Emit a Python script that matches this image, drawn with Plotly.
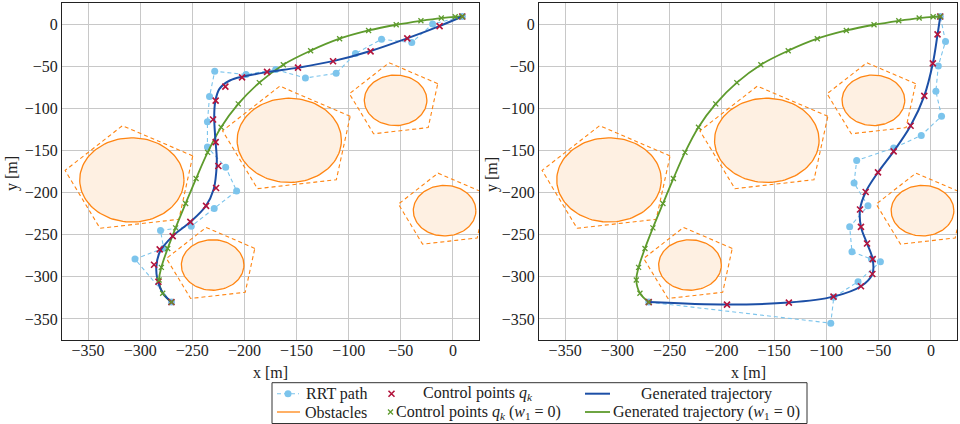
import numpy as np
import plotly.graph_objects as go

# ---------------------------------------------------------------- data
# obstacles: circle centres and radii (identical in both panels)
obs_cx = [-308, -157, -55, -8, -230.5]
obs_cy = [-185, -138, -90.5, -221.5, -286]
obs_r = [50, 50, 30, 30, 30]
safety_margin = 15          # pentagon circumradius = r + margin
pentagon_rot_deg = 26

# left panel
left_rrt_x = [-270, -305, -277.5, -280.5, -251, -229, -207.5, -218, -235.5, -235.5,
              -233.5, -228.5, -198.5, -170, -141.5, -112, -93.5, -68.5, -39.5, -19.5, 9]
left_rrt_y = [-330, -279, -266, -245, -240, -219, -198, -170, -146, -116,
              -86, -56, -60, -54, -64, -58.5, -35, -18, -22, 0, 9]
left_cp_x = [-270, -282.5, -286.7, -281.3, -268.8, -251.9, -236.8, -227.2, -225, -227.6,
             -230.1, -227.6, -218.3, -202.3, -178.3, -148.6, -115, -79, -43.8, -12.8, 9]
left_cp_y = [-330, -305.8, -285.7, -267.5, -251.7, -234.8, -215.8, -194.6, -168.5, -140.1,
             -113.3, -90.8, -74.2, -63.2, -56.8, -51.7, -44.2, -32.4, -17, -2.4, 9]
left_traj_x = [-270, -279, -283.5, -284.5, -281, -268.8, -252, -237, -229.5, -227,
               -226.5, -228, -229, -228, -224, -214, -200, -178, -148.6, -115, -79, -44, -13, 9]
left_traj_y = [-330, -318, -303, -288, -270, -251.7, -235, -216, -196, -175,
               -160, -135, -110, -92, -77, -67, -62, -57, -51.7, -44, -32, -17, -2.4, 9]

# right panel
right_rrt_x = [-270, -95.8, -92.9, -69.7, -48.3, -56.9, -75.5, -77.7, -60.2, -73.5,
               -71, -35.6, -9.2, 10.2, 4.8, 7.1, 14, 9]
right_rrt_y = [-330, -355, -324.3, -305.8, -282.1, -279, -270.3, -240.7, -215.8, -188.6,
               -161.8, -147.2, -132.2, -109.3, -79.8, -49.7, -20.6, 9]
right_cp_x = [-270, -195.1, -135.9, -93.2, -66.9, -56, -55.7, -61.1, -66.9, -67.8,
              -62.4, -50.6, -35.6, -19.4, -6.3, 1.9, 6.4, 9]
right_cp_y = [-330, -333, -330.6, -323.5, -311.2, -296.7, -279, -260.4, -240.7, -220.1,
              -199.3, -176, -151.1, -120.7, -85.2, -46.6, -12.3, 9]
right_traj_x = right_cp_x
right_traj_y = right_cp_y

# w1 = 0 solution (same in both panels)
w0_cp_x = [-270, -278.4, -281.9, -279.7, -273.6, -266, -256.4, -246.4, -235.3, -222.4,
           -205.9, -185.7, -162.7, -136.5, -108.7, -80.9, -54.4, -30.7, -11.2, 2.2, 9]
w0_cp_y = [-330, -319.5, -303.8, -288.8, -266.3, -241.9, -213, -183.4, -152.3, -122.4,
           -94.7, -69.5, -48.2, -31.6, -17.4, -7.6, -0.8, 3.9, 7.1, 8.6, 9]
w0_traj_x = w0_cp_x
w0_traj_y = w0_cp_y

tick_vals = [-350, -300, -250, -200, -150, -100, -50, 0]
axis_range = [-375, 25]

# ---------------------------------------------------------------- style
FONT = "Liberation Serif, DejaVu Serif, serif"
FS = 16
C_RRT = "#7cc4ec"
C_CP = "#b3143c"
C_TRAJ = "#1c4fa6"
C_W0 = "#5e9b2d"
C_OBS = "#ff8512"
C_OBS_FILL = "#fef0e2"
W, H = 960, 424

fig = go.Figure()


def circle_xy(cx, cy, r, n=120):
    t = np.linspace(0, 2 * np.pi, n)
    return cx + r * np.cos(t), cy + r * np.sin(t)


def pentagon_xy(cx, cy, R):
    a = np.deg2rad(pentagon_rot_deg + 72 * np.arange(6))
    return cx + R * np.cos(a), cy + R * np.sin(a)


def add_panel(col, rrt_x, rrt_y, traj_x, traj_y, cp_x, cp_y):
    xa, ya = ("x", "y") if col == 1 else ("x2", "y2")
    for cx, cy, r in zip(obs_cx, obs_cy, obs_r):
        ex, ey = circle_xy(cx, cy, r)
        fig.add_trace(go.Scatter(x=ex, y=ey, mode="lines", fill="toself",
                                 fillcolor=C_OBS_FILL, line=dict(color=C_OBS, width=1.3),
                                 xaxis=xa, yaxis=ya, showlegend=False, hoverinfo="skip"))
        px, py = pentagon_xy(cx, cy, r + safety_margin)
        fig.add_trace(go.Scatter(x=px, y=py, mode="lines",
                                 line=dict(color=C_OBS, width=1.1, dash="4px,3px"),
                                 xaxis=xa, yaxis=ya, showlegend=False, hoverinfo="skip"))
    fig.add_trace(go.Scatter(x=rrt_x, y=rrt_y, mode="lines+markers",
                             line=dict(color=C_RRT, width=1.1, dash="4px,3px"),
                             marker=dict(color=C_RRT, size=7, symbol="circle"),
                             xaxis=xa, yaxis=ya, showlegend=False))
    fig.add_trace(go.Scatter(x=w0_traj_x, y=w0_traj_y, mode="lines", line_shape="spline",
                             line=dict(color=C_W0, width=1.8),
                             xaxis=xa, yaxis=ya, showlegend=False))
    fig.add_trace(go.Scatter(x=traj_x, y=traj_y, mode="lines", line_shape="spline",
                             line=dict(color=C_TRAJ, width=2),
                             xaxis=xa, yaxis=ya, showlegend=False))
    fig.add_trace(go.Scatter(x=cp_x, y=cp_y, mode="markers",
                             marker=dict(symbol="x-thin", size=6, line=dict(color=C_CP, width=1.6)),
                             xaxis=xa, yaxis=ya, showlegend=False))
    fig.add_trace(go.Scatter(x=w0_cp_x, y=w0_cp_y, mode="markers",
                             marker=dict(symbol="x-thin", size=5, line=dict(color=C_W0, width=1.3)),
                             xaxis=xa, yaxis=ya, showlegend=False))


add_panel(1, left_rrt_x, left_rrt_y, left_traj_x, left_traj_y, left_cp_x, left_cp_y)
add_panel(2, right_rrt_x, right_rrt_y, right_traj_x, right_traj_y, right_cp_x, right_cp_y)

# ---------------------------------------------------------------- axes
ax_common = dict(range=axis_range, tickvals=tick_vals, showgrid=True, gridcolor="#c8c8c8",
                 gridwidth=1, zeroline=False, showline=True, linecolor="#222", linewidth=1.2,
                 mirror=True, ticks="", tickfont=dict(family=FONT, size=FS, color="#222"))
y_dom = [1 - 340 / H, 1 - 3 / H]
fig.update_layout(
    xaxis=dict(domain=[62 / W, 479 / W], anchor="y", ticklabelstandoff=-4, **ax_common),
    yaxis=dict(domain=y_dom, anchor="x", **ax_common),
    xaxis2=dict(domain=[539 / W, 957 / W], anchor="y2", ticklabelstandoff=-4, **ax_common),
    yaxis2=dict(domain=y_dom, anchor="x2", **ax_common),
    # overlay in pixel units for the legend symbols
    xaxis3=dict(domain=[0, 1], range=[0, W], visible=False, anchor="y3", fixedrange=True),
    yaxis3=dict(domain=[0, 1], range=[H, 0], visible=False, anchor="x3", fixedrange=True),
)

annotations = []
for xc in [(62 + 479) / 2, (539 + 957) / 2]:
    annotations.append(dict(x=xc / W, y=1 - 372 / H, xref="paper", yref="paper",
                            text="x [m]", showarrow=False, xanchor="center", yanchor="middle",
                            font=dict(family=FONT, size=FS, color="#222")))
for xl in [12, 492]:
    annotations.append(dict(x=xl / W, y=1 - 174 / H, xref="paper", yref="paper",
                            text="y [m]", showarrow=False, textangle=-90,
                            xanchor="center", yanchor="middle",
                            font=dict(family=FONT, size=FS, color="#222")))

# ---------------------------------------------------------------- legend
legend_rows = [393.7, 412]
legend_text = [
    (336, 0, "RRT path"),
    (478, 0, "Control points <i>q<sub>k</sub></i>"),
    (706, 0, "Generated trajectory"),
    (336, 1, "Obstacles"),
    (478, 1, "Control points <i>q<sub>k</sub></i> (<i>w</i><sub>1</sub> = 0)"),
    (706, 1, "Generated trajectory (<i>w</i><sub>1</sub> = 0)"),
]
for xc, row, txt in legend_text:
    annotations.append(dict(x=xc / W, y=1 - legend_rows[row] / H, xref="paper", yref="paper",
                            text=txt, showarrow=False, xanchor="center", yanchor="middle",
                            font=dict(family=FONT, size=FS, color="#222")))

shapes = [dict(type="rect", xref="paper", yref="paper",
               x0=272 / W, x1=807 / W, y0=1 - 423.5 / H, y1=1 - 382.7 / H,
               line=dict(color="#333", width=1), fillcolor="rgba(0,0,0,0)", layer="below")]
fig.update_layout(shapes=shapes, annotations=annotations)

r0, r1 = legend_rows
fig.add_trace(go.Scatter(x=[277, 299], y=[r0, r0], mode="lines",
                         line=dict(color=C_RRT, width=1.1, dash="4px,3px"),
                         xaxis="x3", yaxis="y3", showlegend=False, hoverinfo="skip"))
fig.add_trace(go.Scatter(x=[288], y=[r0], mode="markers", marker=dict(color=C_RRT, size=7),
                         xaxis="x3", yaxis="y3", showlegend=False, hoverinfo="skip"))
fig.add_trace(go.Scatter(x=[277, 300], y=[r1, r1], mode="lines",
                         line=dict(color=C_OBS, width=1.3),
                         xaxis="x3", yaxis="y3", showlegend=False, hoverinfo="skip"))
fig.add_trace(go.Scatter(x=[391.5], y=[r0], mode="markers",
                         marker=dict(symbol="x-thin", size=6, line=dict(color=C_CP, width=1.6)),
                         xaxis="x3", yaxis="y3", showlegend=False, hoverinfo="skip"))
fig.add_trace(go.Scatter(x=[390.5], y=[r1], mode="markers",
                         marker=dict(symbol="x-thin", size=5, line=dict(color=C_W0, width=1.3)),
                         xaxis="x3", yaxis="y3", showlegend=False, hoverinfo="skip"))
fig.add_trace(go.Scatter(x=[585, 610], y=[r0, r0], mode="lines",
                         line=dict(color=C_TRAJ, width=2),
                         xaxis="x3", yaxis="y3", showlegend=False, hoverinfo="skip"))
fig.add_trace(go.Scatter(x=[585, 610], y=[r1, r1], mode="lines",
                         line=dict(color=C_W0, width=1.8),
                         xaxis="x3", yaxis="y3", showlegend=False, hoverinfo="skip"))

fig.update_layout(width=W, height=H, margin=dict(l=0, r=0, t=0, b=0),
                  paper_bgcolor="white", plot_bgcolor="rgba(0,0,0,0)", showlegend=False,
                  font=dict(family=FONT, size=FS, color="#222"))

fig.write_html("out.html")
